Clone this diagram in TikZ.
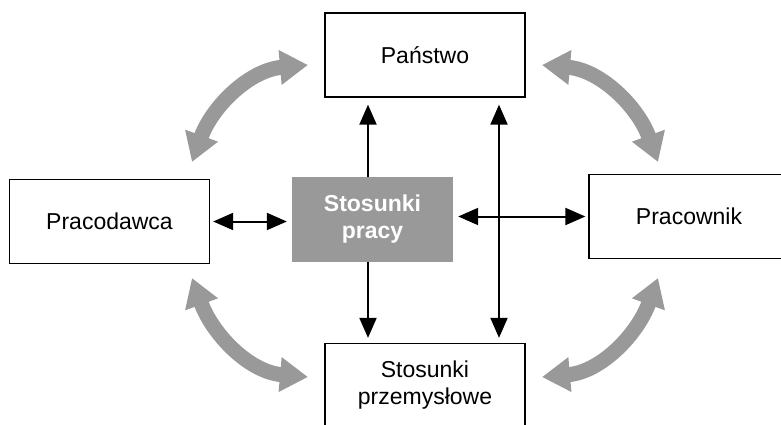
\documentclass[tikz,border=0pt]{standalone}
\usepackage{fontspec}
\setmainfont{Liberation Sans}
\usepackage{tikz}
\usetikzlibrary{arrows.meta, positioning}
\definecolor{coregray}{HTML}{999999}
\newcommand{\labelfont}{\fontsize{23}{27}\selectfont}
\tikzset{
  box/.style={draw, line width=1.3pt, minimum width=200pt, minimum height=84pt, inner sep=0pt, align=center, font=\labelfont},
  core/.style={fill=coregray, minimum width=161pt, minimum height=85pt, inner sep=0pt, text=white, align=center, font=\labelfont\bfseries},
  link/.style={line width=2pt, -{Triangle[length=20pt,width=17pt]}},
  twolink/.style={line width=2pt, {Triangle[length=20pt,width=17pt]}-{Triangle[length=20pt,width=17pt]}},
  swing/.style={line width=15pt, draw=coregray, {Triangle[length=28pt,width=33pt]}-{Triangle[length=28pt,width=33pt]}}
}

\begin{document}
\begin{tikzpicture}[x=1pt, y=1pt]
    \useasboundingbox (0,0) rectangle (781,424);

    \node[core] (praca) at (372.5,204.5) {Stosunki\\pracy};
    \node[box] (panstwo) at (425,369) {Pa\'nstwo};
    \node[box] (pracodawca) at (109.5,202.5) {Pracodawca};
    \node[box] (pracownik) at (689,207.5) {Pracownik};
    \node[box] (przem) at (425,38.5) {Stosunki\\przemys\l{}owe};

    \coordinate (axis) at (499,210);
    \coordinate (mid) at (368,210);

    % straight links
    \draw[link, shorten >=7pt] (mid |- praca.north) -- (mid |- panstwo.south);
    \draw[link, shorten >=5pt] (mid |- praca.south) -- (mid |- przem.north);
    \draw[twolink, shorten <=7pt, shorten >=5pt] (axis |- panstwo.south) -- (axis |- przem.north);
    \draw[twolink, shorten <=3pt, shorten >=5pt] (pracodawca.east) -- (pracodawca.east -| praca.west);
    \draw[twolink, shorten <=5pt, shorten >=3pt] (pracownik.west -| praca.east) -- (pracownik.west);

    % curved links
    \coordinate (tl1) at (192,262);
    \coordinate (tl2) at (308,359);
    \coordinate (tr1) at (658,262);
    \coordinate (tr2) at (542,359);
    \coordinate (bl1) at (192,146);
    \coordinate (bl2) at (308,47);
    \coordinate (br1) at (658,146);
    \coordinate (br2) at (542,47);
    \draw[swing] (tl1) to[out=70, in=185] (tl2);
    \draw[swing] (tr1) to[out=110, in=-5] (tr2);
    \draw[swing] (bl1) to[out=-70, in=175] (bl2);
    \draw[swing] (br1) to[out=-110, in=5] (br2);
\end{tikzpicture}
\end{document}
